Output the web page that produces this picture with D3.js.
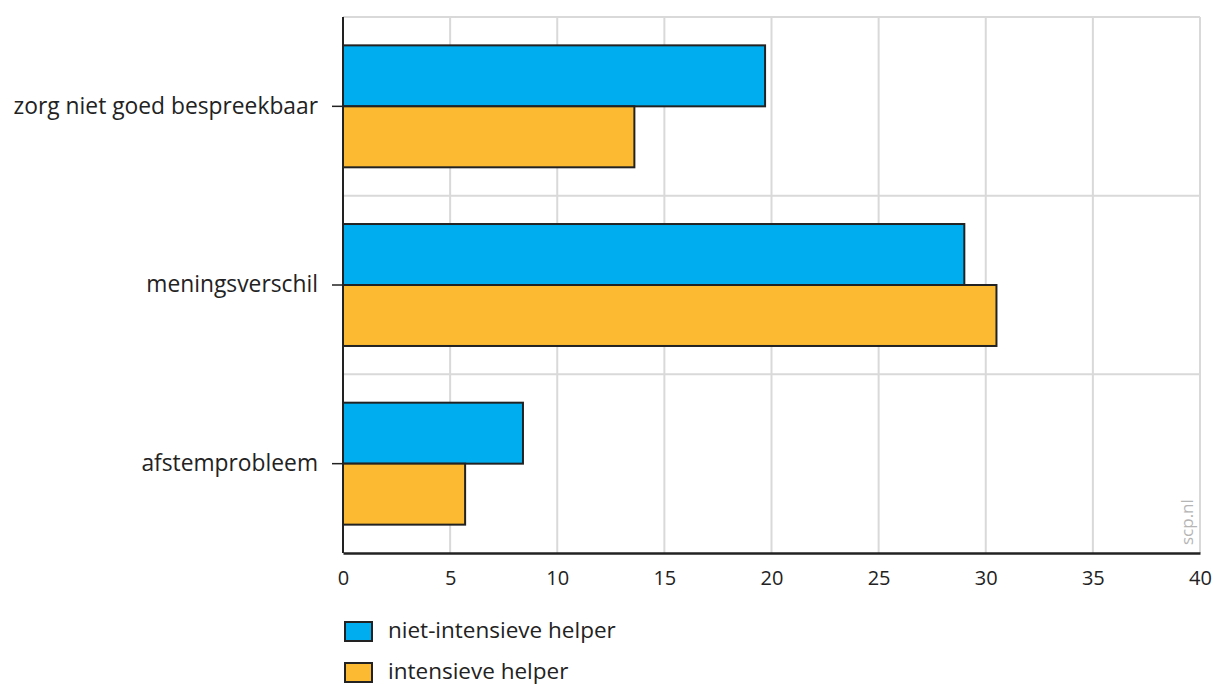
<!DOCTYPE html>
<html><head><meta charset="utf-8">
<script src="https://cdn.jsdelivr.net/npm/d3@7"></script>
<style>body{margin:0;background:#fff;} svg text{font-family:"Open Sans",sans-serif;fill:#222;}</style>
</head><body>
<svg id="c" width="1213" height="686"></svg>
<script>
const categories = ["zorg niet goed bespreekbaar", "meningsverschil", "afstemprobleem"];
const seriesNames = ["niet-intensieve helper", "intensieve helper"];
const nietIntensief = [19.7, 29.0, 8.4];
const intensief = [13.6, 30.5, 5.7];
const xTicks = [0, 5, 10, 15, 20, 25, 30, 35, 40];
const colors = ["#00adee", "#fbba31"];

(function () {
const svg = d3.select("#c");
const mL = 343, mR = 1200, mT = 17, mB = 553;
const x = d3.scaleLinear().domain([0, 40]).range([mL, mR]);
const y = d3.scaleBand().domain(categories).range([mT, mB]);
const inner = d3.scaleBand().domain(seriesNames).range([0, y.bandwidth()]).paddingOuter(0.465).paddingInner(0);

// grid
svg.append("g").selectAll("line").data(xTicks.slice(1)).join("line")
  .attr("x1", d => x(d)).attr("x2", d => x(d)).attr("y1", mT).attr("y2", mB)
  .attr("stroke", "#d9d9d9").attr("stroke-width", 2);
svg.append("g").selectAll("line").data(categories).join("line")
  .attr("x1", mL).attr("x2", mR).attr("y1", d => y(d)).attr("y2", d => y(d))
  .attr("stroke", "#d9d9d9").attr("stroke-width", 2);

// bars
const data = [nietIntensief, intensief];
data.forEach((vals, si) => {
  svg.append("g").selectAll("rect").data(vals).join("rect")
    .attr("x", x(0))
    .attr("y", (d, i) => y(categories[i]) + inner(seriesNames[si]))
    .attr("width", d => x(d) - x(0))
    .attr("height", inner.bandwidth())
    .attr("fill", colors[si]).attr("stroke", "#222").attr("stroke-width", 2);
});

// axes
const yAxis = svg.append("g").attr("transform", `translate(${mL},0)`)
  .call(d3.axisLeft(y).tickSize(11).tickPadding(14));
yAxis.select(".domain").attr("stroke", "#222").attr("stroke-width", 2).attr("d", `M0,${mT}V${mB}`);
yAxis.selectAll(".tick line").attr("stroke", "#222").attr("stroke-width", 1.5);
yAxis.selectAll(".tick text").attr("font-size", 22.8).style("font-family", "Open Sans").attr("fill", "#222");

const xAxis = svg.append("g").attr("transform", `translate(0,${mB})`)
  .call(d3.axisBottom(x).tickValues(xTicks).tickSize(0).tickPadding(18));
xAxis.select(".domain").attr("stroke", "#222").attr("stroke-width", 2.5);
xAxis.selectAll(".tick text").attr("font-size", 20).style("font-family", "Open Sans").attr("fill", "#222");

// watermark
svg.append("text").attr("transform", `translate(1193,545) rotate(-90)`)
  .attr("font-size", 17).style("fill", "#b5b5b5").text("scp.nl");

// legend
const lg = svg.append("g");
seriesNames.forEach((s, i) => {
  const yy = 622 + i * 41;
  lg.append("rect").attr("x", 345).attr("y", yy).attr("width", 27).attr("height", 19)
    .attr("fill", colors[i]).attr("stroke", "#222").attr("stroke-width", 2);
  lg.append("text").attr("x", 388).attr("y", yy + 16).attr("font-size", 22.5).text(s);
});
})();
</script>
</body></html>
